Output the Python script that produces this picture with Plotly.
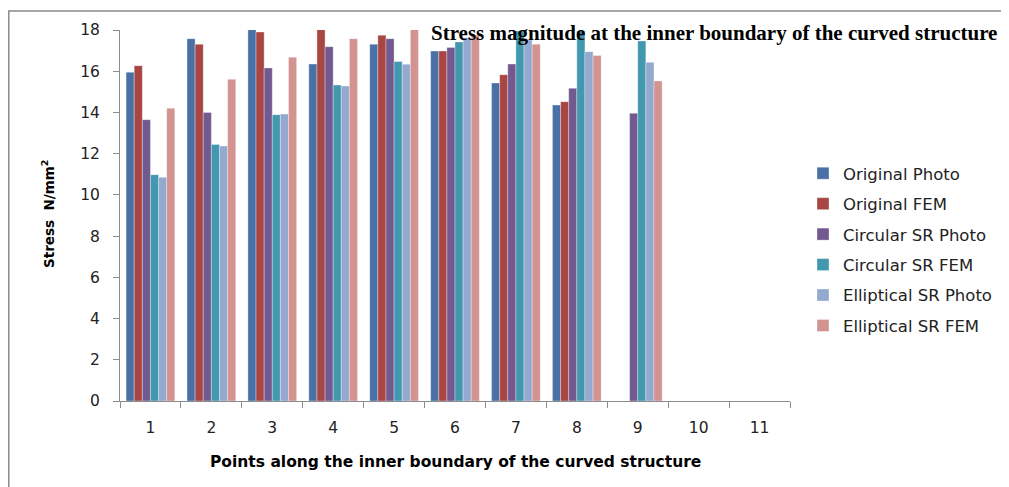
import plotly.graph_objects as go

categories = ["1", "2", "3", "4", "5", "6", "7", "8", "9", "10", "11"]
original_photo = [15.95, 17.58, 18.02, 16.35, 17.31, 16.98, 15.43, 14.36, None, None, None]
original_fem = [16.27, 17.31, 17.90, 18.02, 17.75, 16.98, 15.83, 14.52, None, None, None]
circular_photo = [13.65, 14.00, 16.16, 17.19, 17.58, 17.15, 16.35, 15.17, 13.96, None, None]
circular_fem = [10.98, 12.45, 13.89, 15.33, 16.47, 17.42, 17.95, 17.95, 17.47, None, None]
elliptical_photo = [10.85, 12.37, 13.92, 15.28, 16.34, 17.63, 17.52, 16.95, 16.43, None, None]
elliptical_fem = [14.20, 15.61, 16.68, 17.58, 18.02, 17.75, 17.31, 16.76, 15.53, None, None]

series_names = ["Original Photo", "Original FEM", "Circular SR Photo",
                "Circular SR FEM", "Elliptical SR Photo", "Elliptical SR FEM"]
series_values = [original_photo, original_fem, circular_photo,
                 circular_fem, elliptical_photo, elliptical_fem]
colors = ["#4A71A6", "#A84644", "#72598F", "#4298AF", "#93A9CF", "#D29391"]

OFF = 8  # page body margin
W, H = 1009 - OFF, 487 - OFF
# plot area in reference (window) pixels: x 120..790, y 30..401
L, T = 120 - OFF, 30 - OFF
R = W - (790 - OFF)
B = H - (401 - OFF)
pw, ph = W - L - R, H - T - B

def px(x):
    return (x - OFF - L) / pw

def py(y):
    return (H - B - (y - OFF)) / ph

fig = go.Figure()
for name, vals, col in zip(series_names, series_values, colors):
    fig.add_trace(go.Bar(
        x=categories, y=vals, name=name, legendgroup=name,
        marker=dict(color=col, line=dict(color="rgba(255,255,255,0.55)", width=0.6)),
    ))

font_main = "DejaVu Sans, sans-serif"

fig.update_layout(
    width=W, height=H,
    margin=dict(l=L, r=R, t=T, b=B, autoexpand=False),
    paper_bgcolor="white", plot_bgcolor="white",
    barmode="group", bargap=0.2, bargroupgap=0,
    showlegend=True,
    legend=dict(
        x=px(803), y=py(156), xanchor="left", yanchor="top",
        font=dict(family=font_main, size=16.5, color="#222"),
        tracegroupgap=6, itemwidth=30,
        bgcolor="rgba(0,0,0,0)",
    ),
    xaxis=dict(
        type="category", range=[-0.5, 10.5],
        showline=True, linecolor="#8c8c8c", linewidth=1,
        ticks="outside", tickson="boundaries", ticklen=6, tickcolor="#8c8c8c",
        ticklabelstandoff=12,
        tickfont=dict(family=font_main, size=15.5, color="#222"),
        showgrid=False, zeroline=False,
    ),
    yaxis=dict(
        range=[0, 18], tickvals=list(range(0, 19, 2)),
        showline=True, linecolor="#8c8c8c", linewidth=1,
        ticks="outside", ticklen=6, tickcolor="#8c8c8c",
        ticklabelstandoff=10,
        tickfont=dict(family=font_main, size=15.5, color="#222"),
        showgrid=False, zeroline=False,
    ),
    annotations=[
        dict(text="<b>Stress magnitude at the inner boundary of the curved structure</b>",
             xref="paper", yref="paper", x=px(429), y=py(33), xanchor="left", yanchor="middle",
             showarrow=False, font=dict(family="Liberation Serif, serif", size=21, color="black")),
        dict(text="<b>Points along the inner boundary of the curved structure</b>",
             xref="paper", yref="paper", x=px(455), y=py(462), xanchor="center", yanchor="middle",
             showarrow=False, font=dict(family=font_main, size=15.5, color="black")),
        dict(text="<b>Stress  N/mm<sup>2</sup></b>",
             xref="paper", yref="paper", x=px(48), y=py(214), xanchor="center", yanchor="middle",
             textangle=-90, showarrow=False, font=dict(family=font_main, size=13.5, color="black")),
    ],
    shapes=[
        dict(type="rect", xref="paper", yref="paper",
             x0=px(8.8), x1=px(1030), y0=py(11), y1=py(520),
             line=dict(color="#8a8a8a", width=1.5), fillcolor="rgba(0,0,0,0)", layer="below"),
    ],
)

fig.write_html("out.html")
